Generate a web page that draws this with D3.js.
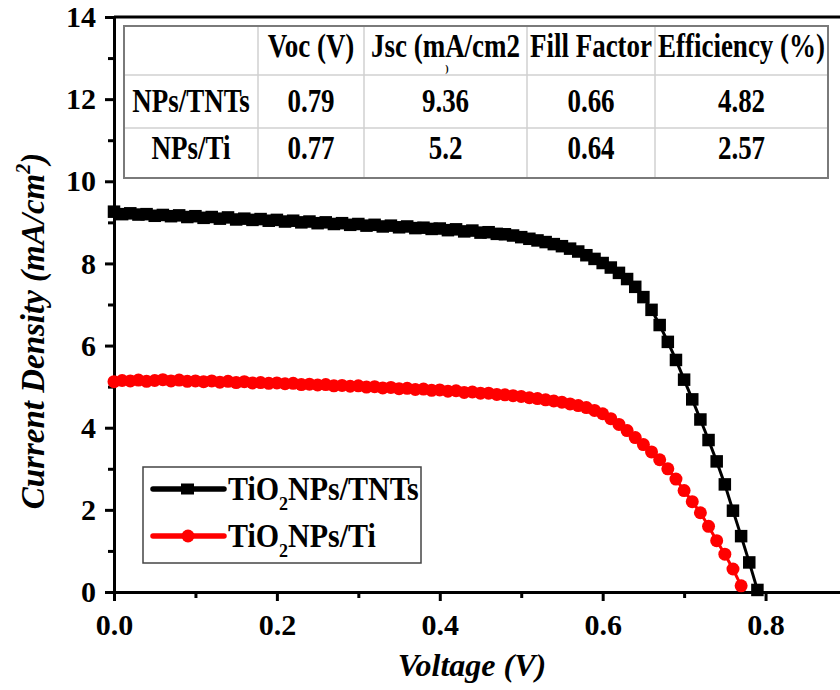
<!DOCTYPE html>
<html>
<head>
<meta charset="utf-8">
<script src="https://cdn.jsdelivr.net/npm/d3@7"></script>
<style>
	body { margin: 0; background: #fff; }
	svg { display: block; }
	text { font-family: "Liberation Serif", "Times New Roman", serif; font-weight: bold; }
</style>
</head>
<body>
<div id="chart"></div>
<script>
// === Data ===
const voltageTNTs = [
	0.00, 0.01, 0.02, 0.03, 0.04, 0.05, 0.06, 0.07, 0.08, 0.09,
	0.10, 0.11, 0.12, 0.13, 0.14, 0.15, 0.16, 0.17, 0.18, 0.19,
	0.20, 0.21, 0.22, 0.23, 0.24, 0.25, 0.26, 0.27, 0.28, 0.29,
	0.30, 0.31, 0.32, 0.33, 0.34, 0.35, 0.36, 0.37, 0.38, 0.39,
	0.40, 0.41, 0.42, 0.43, 0.44, 0.45, 0.46, 0.47, 0.48, 0.49,
	0.50, 0.51, 0.52, 0.53, 0.54, 0.55, 0.56, 0.57, 0.58, 0.59,
	0.60, 0.61, 0.62, 0.63, 0.64, 0.65, 0.66, 0.67, 0.68, 0.69,
	0.70, 0.71, 0.72, 0.73, 0.74, 0.75, 0.76, 0.77, 0.78, 0.79
];
const currentTNTs = [
	9.26, 9.20, 9.22, 9.19, 9.20, 9.16, 9.18, 9.15, 9.17, 9.13,
	9.15, 9.11, 9.13, 9.09, 9.12, 9.07, 9.09, 9.06, 9.08, 9.04,
	9.06, 9.02, 9.04, 9.00, 9.02, 8.98, 9.00, 8.96, 8.98, 8.94,
	8.96, 8.92, 8.94, 8.90, 8.92, 8.88, 8.90, 8.86, 8.87, 8.84,
	8.85, 8.81, 8.83, 8.78, 8.80, 8.75, 8.76, 8.72, 8.71, 8.68,
	8.64, 8.60, 8.56, 8.52, 8.47, 8.42, 8.36, 8.29, 8.20, 8.11,
	8.01, 7.90, 7.77, 7.62, 7.43, 7.18, 6.87, 6.50, 6.09, 5.65,
	5.17, 4.69, 4.20, 3.70, 3.18, 2.62, 1.98, 1.36, 0.72, 0.05
];
const voltageTi = [
	0.00, 0.01, 0.02, 0.03, 0.04, 0.05, 0.06, 0.07, 0.08, 0.09,
	0.10, 0.11, 0.12, 0.13, 0.14, 0.15, 0.16, 0.17, 0.18, 0.19,
	0.20, 0.21, 0.22, 0.23, 0.24, 0.25, 0.26, 0.27, 0.28, 0.29,
	0.30, 0.31, 0.32, 0.33, 0.34, 0.35, 0.36, 0.37, 0.38, 0.39,
	0.40, 0.41, 0.42, 0.43, 0.44, 0.45, 0.46, 0.47, 0.48, 0.49,
	0.50, 0.51, 0.52, 0.53, 0.54, 0.55, 0.56, 0.57, 0.58, 0.59,
	0.60, 0.61, 0.62, 0.63, 0.64, 0.65, 0.66, 0.67, 0.68, 0.69,
	0.70, 0.71, 0.72, 0.73, 0.74, 0.75, 0.76, 0.77
];
const currentTi = [
	5.12, 5.15, 5.14, 5.16, 5.13, 5.15, 5.17, 5.14, 5.16, 5.13,
	5.14, 5.12, 5.14, 5.11, 5.13, 5.10, 5.12, 5.09, 5.10, 5.08,
	5.09, 5.07, 5.08, 5.05, 5.06, 5.04, 5.05, 5.02, 5.03, 5.01,
	5.02, 4.99, 5.00, 4.97, 4.98, 4.95, 4.96, 4.93, 4.94, 4.91,
	4.92, 4.89, 4.90, 4.86, 4.87, 4.84, 4.84, 4.81, 4.80, 4.78,
	4.76, 4.73, 4.71, 4.68, 4.65, 4.62, 4.58, 4.54, 4.49, 4.42,
	4.34, 4.22, 4.08, 3.93, 3.76, 3.59, 3.41, 3.22, 3.00, 2.75,
	2.47, 2.20, 1.93, 1.60, 1.25, 0.92, 0.56, 0.15
];

const xTicks = [0, 0.2, 0.4, 0.6, 0.8];
const xMinorTicks = [0.1, 0.3, 0.5, 0.7, 0.9];
const yTicks = [0, 2, 4, 6, 8, 10, 12, 14];
const yMinorTicks = [1, 3, 5, 7, 9, 11, 13];

const seriesNames = ['TNTs', 'Ti'];
const legendLabels = ['NPs/TNTs', 'NPs/Ti'];
const seriesColors = ['#000000', '#ff0000'];

const tableHeader = ['', 'Voc (V)', 'Jsc (mA/cm2', 'Fill Factor', 'Efficiency (%)'];
const tableRows = [
	['NPs/TNTs', '0.79', '9.36', '0.66', '4.82'],
	['NPs/Ti', '0.77', '5.2', '0.64', '2.57']
];

// === Layout ===
const W = 840, H = 690;
const svg = d3.select('#chart').append('svg').attr('width', W).attr('height', H);

const x = d3.scaleLinear().domain([0, 0.9]).range([114, 847]);
const y = d3.scaleLinear().domain([0, 14]).range([592, 17]);

const series = [
	{ key: seriesNames[0], color: seriesColors[0], data: voltageTNTs.map((v, i) => ({ v, j: currentTNTs[i] })) },
	{ key: seriesNames[1], color: seriesColors[1], data: voltageTi.map((v, i) => ({ v, j: currentTi[i] })) }
];

// text that is a bit taller than wide, as in the scanned figure
function tallText(parent, tx, ty, sy) {
	return parent.append('text').attr('transform', `translate(${tx},${ty}) scale(1,${sy})`);
}

// === Table (inset) ===
const colEdges = [124, 258, 364, 527, 655, 828];
const rowEdges = [26, 75, 128, 178];
const rowBaselines = [57, 112, 159];
const table = svg.append('g').attr('class', 'table');

colEdges.slice(1, -1).forEach(cx => {
	table.append('line').attr('x1', cx).attr('x2', cx).attr('y1', rowEdges[0]).attr('y2', rowEdges[3])
		.attr('stroke', '#d0d0d0').attr('stroke-width', 1.5);
});
rowEdges.slice(1, -1).forEach(ry => {
	table.append('line').attr('x1', colEdges[0]).attr('x2', colEdges[5]).attr('y1', ry).attr('y2', ry)
		.attr('stroke', '#d0d0d0').attr('stroke-width', 1.5);
});
table.append('rect')
	.attr('x', colEdges[0]).attr('y', rowEdges[0])
	.attr('width', colEdges[5] - colEdges[0]).attr('height', rowEdges[3] - rowEdges[0])
	.attr('fill', 'none').attr('stroke', '#7a7a7a').attr('stroke-width', 2);

[tableHeader, ...tableRows].forEach((row, ri) => {
	row.forEach((cell, ci) => {
		if (!cell) return;
		tallText(table, (colEdges[ci] + colEdges[ci + 1]) / 2, rowBaselines[ri], 1.22)
			.attr('text-anchor', 'middle')
			.style('font-size', '27px')
			.text(cell);
	});
});
// the wrapped ")" of the Jsc header peeks out below the cell
table.append('text')
	.attr('x', 447).attr('y', 72)
	.attr('text-anchor', 'middle')
	.style('font-size', '10px')
	.text(')');

// === Axes ===
const axisG = svg.append('g').attr('class', 'axes');

axisG.append('g').attr('transform', `translate(0, ${y(0)})`)
	.call(d3.axisBottom(x).tickValues(xTicks).tickSize(9).tickSizeOuter(0).tickPadding(13).tickFormat(d3.format('.1f')));
axisG.append('g').attr('transform', `translate(0, ${y(0)})`)
	.call(d3.axisBottom(x).tickValues(xMinorTicks).tickSize(6).tickSizeOuter(0).tickFormat(''))
	.select('.domain').remove();

axisG.append('g').attr('transform', `translate(${x(0)}, 0)`)
	.call(d3.axisLeft(y).tickValues(yTicks).tickSize(9).tickSizeOuter(0).tickPadding(9));
axisG.append('g').attr('transform', `translate(${x(0)}, 0)`)
	.call(d3.axisLeft(y).tickValues(yMinorTicks).tickSize(6).tickSizeOuter(0).tickFormat(''))
	.select('.domain').remove();

axisG.selectAll('.domain').attr('stroke', '#000').attr('stroke-width', 3);
axisG.selectAll('.tick line').attr('stroke', '#000').attr('stroke-width', 3);
axisG.selectAll('.tick text')
	.style('font-family', '"Liberation Serif", serif')
	.style('font-weight', 'bold')
	.style('font-size', '30px')
	.attr('fill', '#000');

// top frame line
axisG.append('line')
	.attr('x1', x(0)).attr('x2', W).attr('y1', y(14)).attr('y2', y(14))
	.attr('stroke', '#000').attr('stroke-width', 3);

// X axis label
svg.append('text')
	.attr('x', 472).attr('y', 676)
	.attr('text-anchor', 'middle')
	.style('font-size', '32px').style('font-style', 'italic')
	.text('Voltage (V)');

// Y axis label
const yLab = svg.append('text')
	.attr('transform', 'rotate(-90)')
	.attr('x', -331).attr('y', 44)
	.attr('text-anchor', 'middle')
	.style('font-size', '33px').style('font-style', 'italic');
yLab.append('tspan').text('Current Density (mA/cm');
yLab.append('tspan').attr('dy', -14).style('font-size', '20px').text('2');
yLab.append('tspan').attr('dy', 14).text(')');

// === Marks ===
const line = d3.line().x(d => x(d.v)).y(d => y(d.j));
const marks = svg.append('g').attr('class', 'marks');

series.slice().reverse().forEach(s => {
	marks.append('path').datum(s.data)
		.attr('d', line).attr('fill', 'none')
		.attr('stroke', s.color).attr('stroke-width', 3);
});

marks.selectAll('rect.pt').data(series[0].data).join('rect')
	.attr('class', 'pt')
	.attr('x', d => x(d.v) - 6.25).attr('y', d => y(d.j) - 6.25)
	.attr('width', 12.5).attr('height', 12.5)
	.attr('fill', series[0].color);

marks.selectAll('circle.pt').data(series[1].data).join('circle')
	.attr('class', 'pt')
	.attr('cx', d => x(d.v)).attr('cy', d => y(d.j)).attr('r', 6.5)
	.attr('fill', series[1].color);

// === Legend ===
const legend = svg.append('g').attr('class', 'legend');
legend.append('rect')
	.attr('x', 143).attr('y', 467).attr('width', 278).attr('height', 96)
	.attr('fill', '#fff').attr('stroke', '#444').attr('stroke-width', 1.5);

series.forEach((s, i) => {
	const ly = 489 + i * 47;
	legend.append('line')
		.attr('x1', 153).attr('x2', 224).attr('y1', ly).attr('y2', ly)
		.attr('stroke', s.color).attr('stroke-width', 5.5).attr('stroke-linecap', 'round');
	if (i === 0) {
		legend.append('rect').attr('x', 181).attr('y', ly - 5.5).attr('width', 13).attr('height', 11).attr('fill', s.color);
	} else {
		legend.append('circle').attr('cx', 188).attr('cy', ly).attr('r', 6.5).attr('fill', s.color);
	}
	const t = tallText(legend, 228, ly + 11, 1.1).style('font-size', '30px');
	t.append('tspan').text('TiO');
	t.append('tspan').attr('dy', 9).style('font-size', '18px').text('2');
	t.append('tspan').attr('dy', -9).text(legendLabels[i]);
});
</script>
</body>
</html>
